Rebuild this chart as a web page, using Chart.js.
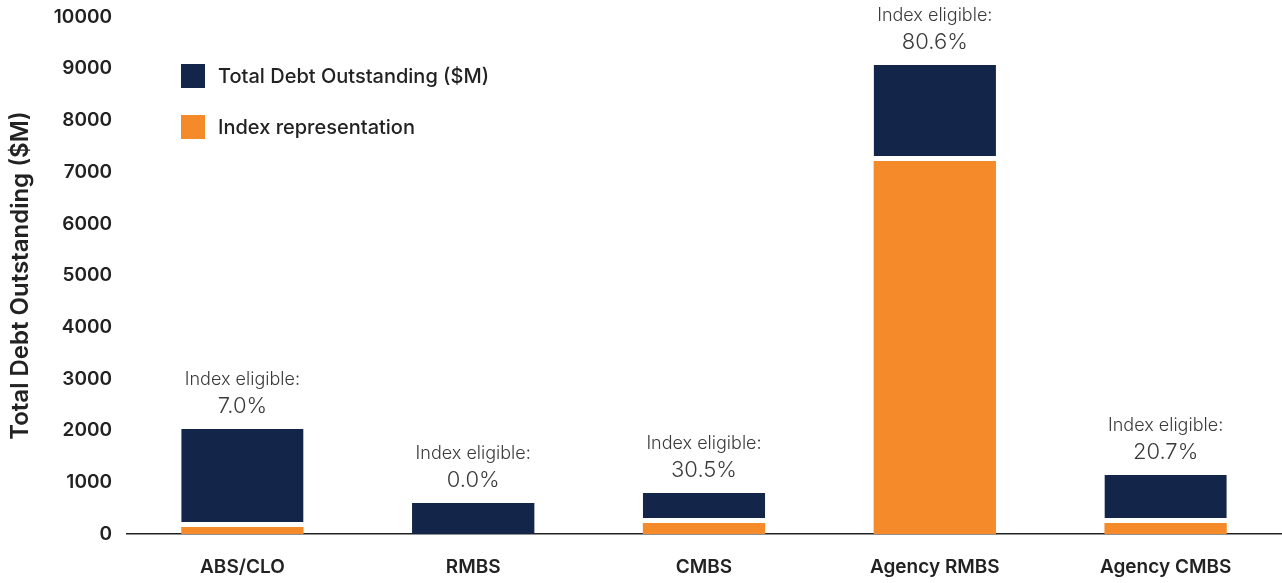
<!DOCTYPE html>
<html>
<head>
<meta charset="utf-8">
<script src="https://cdn.jsdelivr.net/npm/chart.js@4.4.1/dist/chart.umd.min.js"></script>
<style>
  html, body { margin: 0; padding: 0; background: #fff; }
  #wrap { position: relative; width: 1282px; height: 583px; }
  .legend { position: absolute; left: 181px; font: 500 20px Inter, "Noto Sans", sans-serif; color: #222; }
  .legend div { display: flex; align-items: center; height: 24px; margin-bottom: 27px; }
  .legend span.sw { width: 24px; height: 24px; margin-right: 13px; display: inline-block; }
</style>
</head>
<body>
<div id="wrap">
  <canvas id="chart"></canvas>
  <div class="legend" style="top:64px">
    <div><span class="sw" style="background:#13264a"></span>Total Debt Outstanding ($M)</div>
    <div><span class="sw" style="background:#f58a2a"></span>Index representation</div>
  </div>
</div>
<script>
// Encours total vs part dans l'indice, par segment titrisé.
const categories = ["ABS/CLO", "RMBS", "CMBS", "Agency RMBS", "Agency CMBS"];
const totalDebt = [2030, 600, 795, 9070, 1140];
const indexRep = [135, 0, 213, 7215, 213];
const eligible = ["7.0%", "0.0%", "30.5%", "80.6%", "20.7%"];
const yTicks = [0, 1000, 2000, 3000, 4000, 5000, 6000, 7000, 8000, 9000, 10000];

const NAVY = "#13264a", ORANGE = "#f58a2a", INK = "#222";
const FONT = "Inter, 'Noto Sans', sans-serif";

// la partie bleue = total moins la part indice (empilée au-dessus)
const rest = totalDebt.map((t, i) => t - indexRep[i]);

const eligibleLabels = {
  id: "eligibleLabels",
  afterDatasetsDraw(chart) {
    const { ctx } = chart;
    const top = chart.getDatasetMeta(1).data;
    ctx.save();
    ctx.textAlign = "center";
    ctx.textBaseline = "middle";
    ctx.fillStyle = "#3a3a3a";
    top.forEach((bar, i) => {
      ctx.font = `300 18px ${FONT}`;
      ctx.fillText("Index eligible:", bar.x, bar.y - 49);
      ctx.font = `300 22px ${FONT}`;
      ctx.fillText(eligible[i], bar.x, bar.y - 23);
    });
    ctx.restore();
  },
};

new Chart(document.getElementById("chart"), {
  type: "bar",
  data: {
    labels: categories,
    datasets: [
      { label: "Index representation", data: indexRep, backgroundColor: ORANGE, borderWidth: 0 },
      {
        label: "Total Debt Outstanding ($M)", data: rest, backgroundColor: NAVY,
        borderColor: "#fff", borderSkipped: false,
        // filet blanc entre les deux segments
        borderWidth: (c) => ({ top: 0, left: 0, right: 0, bottom: indexRep[c.dataIndex] > 0 ? 5 : 0 }),
      },
    ],
  },
  options: {
    responsive: true, maintainAspectRatio: false, animation: false,
    layout: { padding: { top: 17, right: 1, bottom: 4, left: 0 } },
    datasets: { bar: { categoryPercentage: 0.53, barPercentage: 1 } },
    plugins: { legend: { display: false }, tooltip: { enabled: false } },
    scales: {
      x: {
        stacked: true,
        afterFit: (s) => { s.height = 45; },
        grid: { display: false, drawTicks: false },
        border: { display: true, color: INK, width: 1.5 },
        ticks: { color: INK, padding: 22, font: { family: FONT, size: 19, weight: 600 } },
      },
      y: {
        stacked: true, min: 0, max: 10000,
        afterBuildTicks: (s) => { s.ticks = yTicks.map((v) => ({ value: v })); },
        // largeur fixe + pas de marge haute auto (le 10000 déborde un peu, comme l'original)
        afterFit: (s) => { s.width = 127; s.paddingTop = 0; s.paddingBottom = 0; },
        grid: { display: false, drawTicks: false },
        border: { display: false },
        ticks: { color: INK, padding: 15, callback: (v) => String(v), font: { family: FONT, size: 19, weight: 600 } },
        title: {
          display: true, text: "Total Debt Outstanding ($M)", color: INK,
          padding: { top: 6, bottom: 0 }, font: { family: FONT, size: 24, weight: 600 },
        },
      },
    },
  },
  plugins: [eligibleLabels],
});
</script>
</body>
</html>
